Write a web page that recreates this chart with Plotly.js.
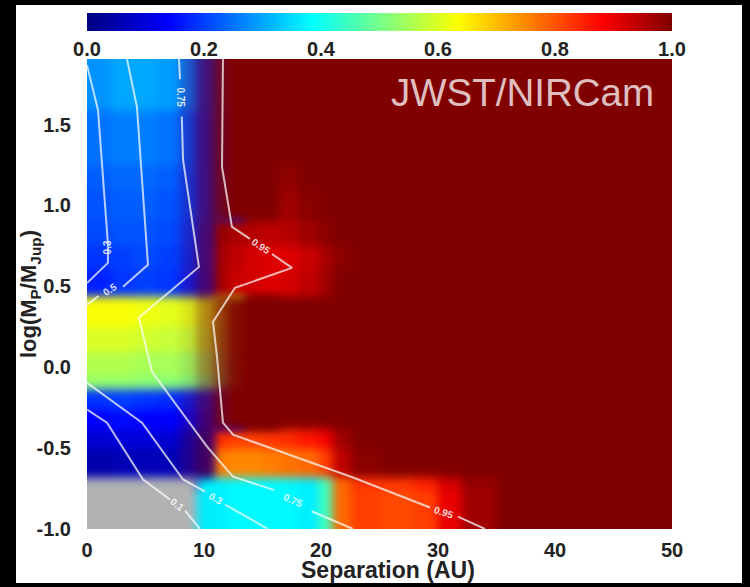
<!DOCTYPE html>
<html><head><meta charset="utf-8">
<script src="https://cdn.plot.ly/plotly-3.0.1.min.js"></script>
<style>html,body{margin:0;padding:0;background:#000;width:750px;height:587px;overflow:hidden}
#chart{position:absolute;left:16px;top:5px;width:726px;height:578px}</style>
</head><body><div id="chart"></div>
<script>
// Separation (AU) cell edges; outermost edges lie just past the axis range
const sepEdges=[-2,2,4,6,8,9.4,10.8,12,13.5,15,16.5,18,19.8,21,22.5,25,28,30,32,35,52];
// log mass cell edges, bottom to top
const massEdges=[-1.2,-0.76,-0.68,-0.5,-0.386,-0.26,-0.14,-0.05,0.1,0.25,0.44,0.6,0.75,0.91,1.1,1.25,1.59,2.1];

// Detection probability rows, bottom to top
const r00=[.07,.07,.07,.07,.36,.37,.37,.38,.38,.38,.38,.37,.45,.78,.82,.81,.82,.9,.97,1];
const r01=[.07,.07,.07,.07,.07,.37,.37,.38,.38,.38,.38,.37,.45,.78,.83,.83,.85,.92,.98,1];
const r02=[.05,.06,.06,.06,.07,.07,.76,.75,.75,.76,.77,.78,.82,.94,.99,1,1,1,1,1];
const r03=[.09,.1,.1,.09,.08,.07,.84,.82,.82,.83,.84,.86,.89,.97,1,1,1,1,1,1];
const r04=[.14,.15,.14,.14,.13,.12,.12,.12,1,1,1,1,1,1,1,1,1,1,1,1];
const r05=[.19,.2,.19,.18,.17,.16,.16,.16,1,1,1,1,1,1,1,1,1,1,1,1];
const r06=[.53,.53,.52,.52,.51,.5,.5,.5,1,1,1,1,1,1,1,1,1,1,1,1];
const r07=[.56,.56,.55,.55,.54,.54,.54,.54,1,1,1,1,1,1,1,1,1,1,1,1];
const r08=[.6,.6,.59,.58,.58,.58,.58,.58,1,1,1,1,1,1,1,1,1,1,1,1];
const r09=[.63,.63,.62,.61,.61,.6,.6,.6,.99,1,1,1,1,1,1,1,1,1,1,1];
const r10=[.17,.19,.2,.19,.17,.15,.95,.93,.92,.91,.92,.94,.97,1,1,1,1,1,1,1];
const r11=[.19,.2,.21,.2,.18,.16,.95,.94,.92,.91,.91,.93,.96,.99,1,1,1,1,1,1];
const r12=[.21,.22,.22,.21,.19,.16,.97,.96,.95,.94,.95,.97,.99,1,1,1,1,1,1,1];
const r13=[.22,.23,.23,.22,.2,.17,.17,.17,.97,.96,.97,.99,1,1,1,1,1,1,1,1];
const r14=[.23,.24,.24,.23,.2,.17,.17,.17,.985,.985,.985,1,1,1,1,1,1,1,1,1];
const r15=[.25,.26,.26,.25,.21,.17,.17,.17,1,1,1,1,1,1,1,1,1,1,1,1];
const r16=[.28,.3,.3,.29,.25,.18,.18,.18,1,1,1,1,1,1,1,1,1,1,1,1];
const probability=[r00,r01,r02,r03,r04,r05,r06,r07,r08,r09,r10,r11,r12,r13,r14,r15,r16];

// Undefined region (drawn grey), first five columns of the two lowest rows
const N=null;
const undefinedRow=[1,1,1,1,1,N,N,N,N,N,N,N,N,N,N,N,N,N,N,N];
const emptyRow=sepEdges.slice(1).map(()=>N);
const undefinedCells=[undefinedRow,undefinedRow].concat(probability.slice(2).map(()=>emptyRow));

// Muddy dark-red blending at the sharp boundary near 10-13 AU
const veilUpper=[0,0,0,0,.2,.5,.85,1,1,1,0,0,0,0,0,0,0,0,0,0];
const veilYellow=[0,0,0,0,.1,.45,.75,.95,1,1,0,0,0,0,0,0,0,0,0,0];
const veilGlow=[0,0,0,0,.2,.55,.3,0,0,0,0,0,0,0,0,0,0,0,0,0];
const veilOrange=[0,0,0,0,.25,.5,0,0,0,0,0,0,0,0,0,0,0,0,0,0];
const veilNone=sepEdges.slice(1).map(()=>0);
const veilCells=[veilNone,veilNone,veilOrange,veilOrange,veilUpper,veilUpper,veilYellow,veilYellow,veilYellow,veilYellow,
  veilGlow,veilGlow,veilGlow,veilUpper,veilUpper,veilUpper,veilUpper];

const colorStops=[[0,'#000080'],[0.14,'#0000ff'],[0.385,'#00ffff'],[0.635,'#ffff00'],[0.88,'#ff0000'],[1,'#800000']];

// Contour lines: separation and log mass
const upper01X=[0,0.94,1.79,1.79,0];
const upper01Y=[1.867,1.59,0.76,0.645,0.52];
const upper03X=[3.42,4.27,5.21,3.08,N,1,0];
const upper03Y=[1.905,1.608,0.633,0.497,N,0.44,0.386];
const c75X=[7.86,7.95,N,8.1,8.21,9.57,6.5,4.44,5.56,10.26,12.48,16,N,19.2,22.74];
const c75Y=[1.905,1.78,N,1.55,1.281,0.62,0.429,0.306,-0.028,-0.491,-0.676,-0.76,N,-0.89,-1];
const c95X=[11.62,11.54,12.39,13.93,N,15.81,17.52,12.65,10.77,11.11,11.62,12.48,22.74,29.32,N,31.7,34.02];
const c95Y=[1.905,1.238,0.867,0.793,N,0.7,0.614,0.491,0.281,0.065,-0.343,-0.417,-0.682,-0.867,N,-0.923,-1];
const lower01X=[0,1.71,4.79,7.09,N,8.38,9.66];
const lower01Y=[-0.262,-0.343,-0.694,-0.818,N,-0.886,-1];
const lower03X=[0,4.7,8.21,10.09,N,11.8,15.47];
const lower03Y=[-0.096,-0.343,-0.694,-0.769,N,-0.849,-1];
const contourLines=[[upper01X,upper01Y],[upper03X,upper03Y],[c75X,c75Y],[c95X,c95Y],[lower01X,lower01Y],[lower03X,lower03Y]];

// Contour labels
const labelText=['0.3','0.5','0.75','0.95','0.1','0.3','0.75','0.95'];
const labelX=[1.79,1.97,8.0,14.9,7.7,11,17.6,30.5];
const labelY=[0.74,0.478,1.67,0.745,-0.85,-0.81,-0.825,-0.895];
const labelAngle=[-90,-32,90,33,40,32,25,18];

// Axis ticks
const massTicks=[-1,-0.5,0,0.5,1,1.5];
const massTickLabels=['-1.0','-0.5','0.0','0.5','1.0','1.5'];

const axisFont={family:'"Liberation Sans",Arial,sans-serif',size:20,color:'#222',weight:'bold'};
const traces=[
 {type:'heatmap',x:sepEdges,y:massEdges,z:probability,zmin:0,zmax:1,colorscale:colorStops,zsmooth:false,hoverinfo:'skip',
  colorbar:{orientation:'h',x:0,xanchor:'left',xref:'paper',len:1,lenmode:'fraction',y:0.9923,yanchor:'top',yref:'paper',thickness:18,
    outlinewidth:0,borderwidth:0,tick0:0,dtick:0.2,tickformat:'.1f',ticks:'',ticklen:0,
    tickfont:axisFont,xpad:0,ypad:0}},
 {type:'heatmap',x:sepEdges,y:massEdges,z:undefinedCells,zmin:0,zmax:1,showscale:false,hoverinfo:'skip',zsmooth:false,
  colorscale:[[0,'#b2b2b2'],[1,'#b2b2b2']]},
 {type:'heatmap',x:sepEdges,y:massEdges,z:veilCells,zmin:0,zmax:1,showscale:false,hoverinfo:'skip',zsmooth:false,
  colorscale:[[0,'rgba(128,0,0,0)'],[1,'rgba(128,0,0,1)']]}
].concat(contourLines.map(([x,y])=>({type:'scatter',mode:'lines',x,y,hoverinfo:'skip',showlegend:false,connectgaps:false,
  line:{color:'rgba(255,255,255,0.72)',width:2,shape:'linear'}})));

const layout={
 width:726,height:578,margin:{l:71,r:70,t:4,b:54,pad:0},
 paper_bgcolor:'#fff',plot_bgcolor:'#800000',showlegend:false,
 font:{family:'"Liberation Sans",Arial,sans-serif',color:'#222'},
 xaxis:{range:[0,50],tick0:0,dtick:10,showgrid:false,zeroline:false,showline:false,ticks:'outside',ticklen:3,tickcolor:'rgba(0,0,0,0)',
   tickfont:axisFont},
 yaxis:{domain:[0,0.90385],range:[-1,1.905],tickmode:'array',tickvals:massTicks,ticktext:massTickLabels,showgrid:false,zeroline:false,showline:false,ticks:'outside',ticklen:11,tickcolor:'rgba(0,0,0,0)',
   tickfont:axisFont,title:{text:'log(M<sub>P</sub>/M<sub>Jup</sub>)',standoff:8,font:{...axisFont,size:22}}},
 annotations:[{xref:'x',yref:'y',x:37.2,y:1.70,text:'JWST/NIRCam',showarrow:false,
   font:{family:'"Liberation Sans",Arial,sans-serif',size:38.5,color:'rgba(255,255,255,0.75)'}},
  {xref:'x',yref:'paper',x:25.7,y:-0.0788,yanchor:'middle',text:'Separation (AU)',showarrow:false,font:{...axisFont,size:23}}]
  .concat(labelText.map((t,i)=>({xref:'x',yref:'y',x:labelX[i],y:labelY[i],text:t,textangle:labelAngle[i],showarrow:false,
   font:{family:'"Liberation Sans",Arial,sans-serif',size:10,weight:'bold',color:'rgba(255,255,255,0.85)'}})))
};
Plotly.newPlot('chart',traces,layout,{displayModeBar:false,staticPlot:true}).then(gd=>{
  gd.querySelectorAll('.hm image').forEach(im=>{im.style.filter='blur(5px)';});
});
</script></body></html>
